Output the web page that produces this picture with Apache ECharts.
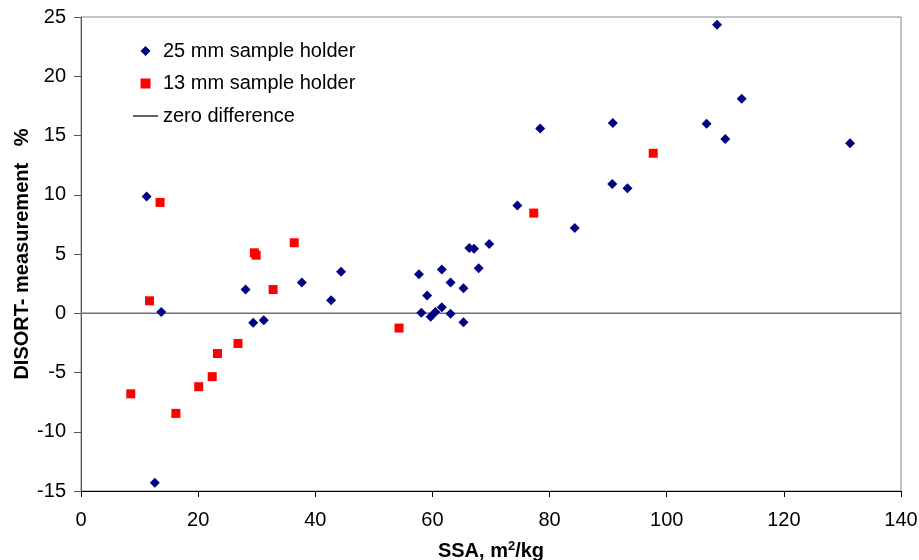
<!DOCTYPE html>
<html>
<head>
<meta charset="utf-8">
<script src="https://cdn.jsdelivr.net/npm/echarts@6/dist/echarts.min.js"></script>
<style>html,body{margin:0;padding:0;background:#fff}#c{width:919px;height:560px}</style>
</head>
<body>
<div id="c"></div>
<script>
// 25 mm sample holder: [SSA, difference %]
const holder25 = [
  [11.2, 9.85], [13.7, 0.1], [12.6, -14.3], [28.1, 2.0], [29.4, -0.8], [31.2, -0.6],
  [37.7, 2.6], [42.7, 1.1], [44.4, 3.5], [57.7, 3.3], [58.1, 0.05], [59.1, 1.5],
  [59.7, -0.3], [60.5, 0.1], [61.6, 0.5], [61.6, 3.7], [63.1, 2.6], [63.1, -0.05],
  [65.3, 2.1], [65.3, -0.75], [66.3, 5.5], [67.1, 5.45], [67.9, 3.8], [69.7, 5.85],
  [74.5, 9.1], [78.4, 15.6], [84.3, 7.2], [90.8, 16.05], [90.7, 10.9], [93.3, 10.55],
  [106.8, 16.0], [108.6, 24.35], [110.0, 14.7], [112.8, 18.1], [131.3, 14.35]
];
// 13 mm sample holder
const holder13 = [
  [8.5, -6.8], [11.7, 1.05], [13.5, 9.35], [16.2, -8.45], [20.1, -6.2], [22.4, -5.35],
  [23.3, -3.4], [26.8, -2.55], [29.6, 5.1], [29.9, 4.9], [32.8, 2.0], [36.4, 5.95],
  [54.3, -1.25], [77.3, 8.45], [97.7, 13.5]
];
// zero difference line
const zeroLine = [[0, 0], [140, 0]];
const seriesNames = ['25 mm sample holder', '13 mm sample holder', 'zero difference'];
const xTitle = 'SSA, m{sup|2}/kg';
const yTitle = 'DISORT- measurement   %';

const FONT = 'Liberation Sans, Arial, sans-serif';
const FS = 20;
const chart = echarts.init(document.getElementById('c'), null, {renderer: 'canvas'});
chart.setOption({
  animation: false,
  backgroundColor: '#fff',
  grid: {left: 81, right: 18, top: 17, bottom: 69, show: true, borderColor: '#888', borderWidth: 1,
    containLabel: false, outerBoundsMode: 'none'},
  legend: {
    orient: 'vertical', left: 128, top: 36, itemWidth: 25, itemHeight: 10, itemGap: 12.5,
    textStyle: {fontFamily: FONT, fontSize: FS, color: '#000'},
    data: [
      {name: seriesNames[0], icon: 'path://M5,0L10,5L5,10L0,5Z', itemStyle: {color: '#000080'}},
      {name: seriesNames[1], icon: 'path://M0,0H10V10H0Z', itemStyle: {color: '#ff0000'}},
      {name: seriesNames[2], icon: 'path://M0,0H24V1.2H0Z', itemStyle: {color: '#000'}}
    ]
  },
  xAxis: {
    type: 'value', min: 0, max: 140, interval: 20,
    name: xTitle, nameLocation: 'middle', nameGap: 49, nameMoveOverlap: false,
    nameTextStyle: {fontFamily: FONT, fontSize: FS, fontWeight: 'bold', color: '#000',
      rich: {sup: {fontFamily: FONT, fontSize: 13, fontWeight: 'bold', color: '#000', verticalAlign: 'top', padding: [0,0,9,0]}}},
    axisLine: {show: true, onZero: false, lineStyle: {color: '#000', width: 1}},
    axisTick: {show: true, inside: false, length: 6, lineStyle: {color: '#000'}},
    axisLabel: {fontFamily: FONT, fontSize: FS, color: '#000', margin: 19},
    splitLine: {show: false}
  },
  yAxis: {
    type: 'value', min: -15, max: 25, interval: 5,
    name: yTitle, nameLocation: 'middle', nameGap: 49, nameMoveOverlap: false,
    nameTextStyle: {fontFamily: FONT, fontSize: FS, fontWeight: 'bold', color: '#000'},
    axisLine: {show: true, onZero: false, lineStyle: {color: '#555', width: 1}},
    axisTick: {show: true, inside: false, length: 7, lineStyle: {color: '#555'}},
    axisLabel: {fontFamily: FONT, fontSize: FS, color: '#000', margin: 15},
    splitLine: {show: false}
  },
  series: [
    {
      name: seriesNames[2], type: 'line', data: zeroLine, symbol: 'none', silent: true,
      lineStyle: {color: '#707070', width: 1.5}, itemStyle: {color: '#000'}, z: 1
    },
    {
      name: seriesNames[0], type: 'scatter', data: holder25, symbol: 'diamond', symbolSize: 10,
      itemStyle: {color: '#000080', opacity: 1}, z: 3
    },
    {
      name: seriesNames[1], type: 'scatter', data: holder13, symbol: 'rect', symbolSize: 9,
      itemStyle: {color: '#ff0000', opacity: 1}, z: 2
    }
  ]
});
</script>
</body>
</html>
